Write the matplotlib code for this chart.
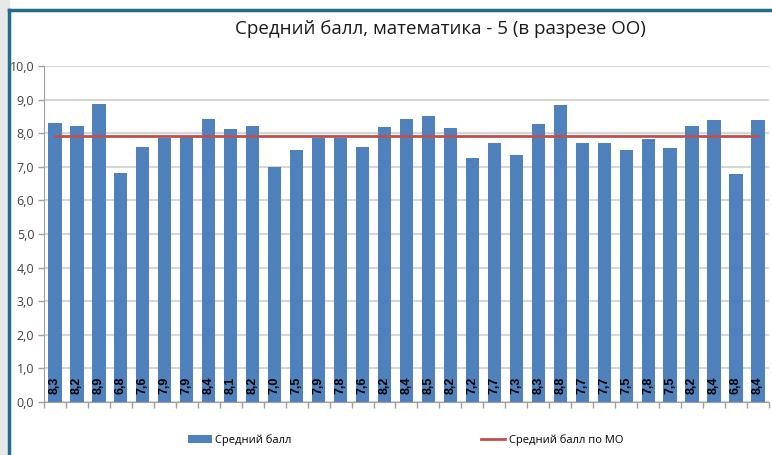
import matplotlib.pyplot as plt
from matplotlib.lines import Line2D
from matplotlib.patches import Rectangle
import numpy as np

plt.rcParams['font.family'] = ['Open Sans', 'DejaVu Sans']

values = [8.3, 8.2, 8.88, 6.82, 7.58, 7.87, 7.9, 8.42, 8.12, 8.22, 6.98,
          7.5, 7.87, 7.85, 7.6, 8.18, 8.42, 8.5, 8.15, 7.25, 7.7, 7.34,
          8.28, 8.85, 7.72, 7.7, 7.5, 7.82, 7.55, 8.22, 8.38, 6.78, 8.4]
mo_mean = 7.92
title = "Средний балл, математика - 5 (в разрезе ОО)"
bar_label = "Средний балл"
line_label = "Средний балл по МО"

bar_color = '#4F81BD'
line_color = '#C0504D'

fig = plt.figure(figsize=(7.72, 4.55), dpi=100)
ax = fig.add_axes([0.057, 0.1165, 0.939, 0.7385])

x = np.arange(len(values))
bars = ax.bar(x, values, width=0.6, color=bar_color, label=bar_label, zorder=2)
line, = ax.plot(x, [mo_mean] * len(values), color=line_color, lw=2,
                label=line_label, zorder=3)

for xi, v in zip(x, values):
    ax.text(xi, 0.5, f"{v:.1f}".replace('.', ','), rotation=90,
            ha='center', va='center', fontsize=9, fontweight='bold',
            family='Liberation Sans', color='black', zorder=4)

ax.set_ylim(0, 10)
ax.set_xlim(-0.5, len(values) - 0.5)
ax.set_yticks(np.arange(0, 11, 1))
ax.set_yticklabels([f"{t:.1f}".replace('.', ',') for t in np.arange(0, 11, 1)],
                   fontsize=9, color='#404040')
ax.set_xticks(np.arange(-0.5, len(values), 1))
ax.set_xticklabels([])
ax.tick_params(axis='x', length=4, color='#A0A0A0', width=1)
ax.tick_params(axis='y', length=4, color='#A0A0A0', width=1, pad=3)
ax.grid(axis='y', color='#D6D6D6', lw=1.5, zorder=0)
ax.set_axisbelow(True)
for s in ['top', 'right']:
    ax.spines[s].set_visible(False)
for s in ['left', 'bottom']:
    ax.spines[s].set_color('#A0A0A0')

fig.text(0.571, 0.936, title, ha='center', va='center', fontsize=13.5,
         color='#1a1a1a')

fig.legend(handles=[bars, line], labels=[bar_label, line_label], ncol=2,
           loc='center', bbox_to_anchor=(0.525, 0.033), frameon=False,
           fontsize=8, columnspacing=17, handlelength=2.2, handletextpad=0.3)

# slide frame
fig.patches.append(Rectangle((0, 0), 9 / 772, 1, transform=fig.transFigure,
                             color='#E8E8E8', zorder=0))
fig.lines.append(Line2D([9 / 772, 9 / 772], [0, 1 - 10 / 455],
                        transform=fig.transFigure, color='#1F6E8C', lw=2.5))
fig.lines.append(Line2D([9 / 772, 1], [1 - 10 / 455, 1 - 10 / 455],
                        transform=fig.transFigure, color='#1F6E8C', lw=2.5))

fig.savefig('out.png', dpi=100)
